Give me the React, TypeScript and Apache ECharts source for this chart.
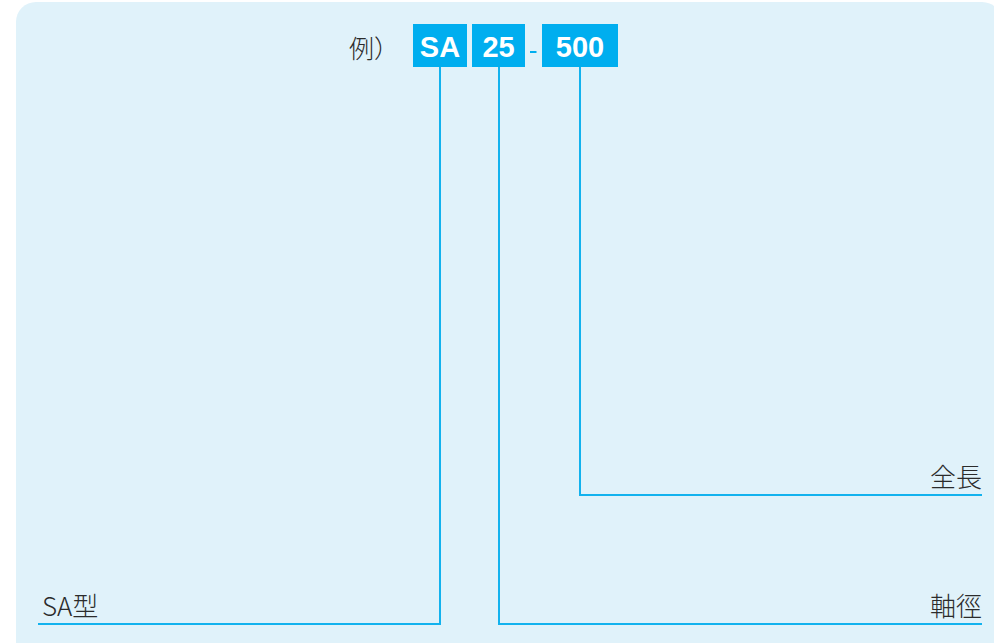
import React, { useEffect, useRef } from "react";
import * as echarts from "echarts";

const prefixLabel = "例）";
const codeParts = ["SA", "25", "500"];
const codeSeparators = ["", "", "-"];
const partLabels = ["SA型", "軸徑", "全長"];

const CYAN = "#00aeef";
const LINE = "#12b2ee";
const BG = "#e0f2fa";
const TXT = "#2b2b2b";

export default function App() {
  const ref = useRef<HTMLDivElement>(null);
  useEffect(() => {
    document.body.style.margin = "0";
    const chart = echarts.init(ref.current!, null, { renderer: "svg" });
    const boxes = [
      { x: 413, w: 54 },
      { x: 472, w: 53 },
      { x: 542, w: 76 },
    ];
    const boxTop = 24;
    const boxH = 43;
    const stemX = [440, 499, 580];
    const elbowY = [624, 624, 495];
    const endX = [38, 982, 982];
    const elements: any[] = [];
    elements.push({
      type: "rect",
      shape: { x: 16, y: 2, width: 986, height: 680, r: 20 },
      style: { fill: BG },
    });
    elements.push({
      type: "text",
      x: 349,
      y: 47,
      style: {
        text: prefixLabel,
        fill: TXT,
        font: '300 25px "Noto Sans CJK JP"',
        align: "left",
        verticalAlign: "middle",
      },
    });
    codeParts.forEach((p, i) => {
      const b = boxes[i];
      if (codeSeparators[i]) {
        elements.push({
          type: "line",
          shape: { x1: 530, y1: 52, x2: 536.5, y2: 52 },
          style: { stroke: CYAN, lineWidth: 2 },
        });
      }
      elements.push({
        type: "rect",
        shape: { x: b.x, y: boxTop, width: b.w, height: boxH },
        style: { fill: CYAN },
      });
      elements.push({
        type: "text",
        x: b.x + b.w / 2,
        y: boxTop + boxH / 2 + 1,
        style: {
          text: p,
          fill: "#ffffff",
          font: 'bold 29px "Liberation Sans", Arial, sans-serif',
          align: "center",
          verticalAlign: "middle",
        },
      });
      elements.push({
        type: "polyline",
        shape: {
          points: [
            [stemX[i], boxTop + boxH],
            [stemX[i], elbowY[i]],
            [endX[i], elbowY[i]],
          ],
        },
        style: { stroke: LINE, lineWidth: 2, fill: null },
      });
      const leftSide = endX[i] < stemX[i];
      elements.push({
        type: "text",
        x: leftSide ? endX[i] + 4 : endX[i],
        y: elbowY[i] - 20,
        style: {
          text: partLabels[i],
          fill: TXT,
          font: '300 26px "Noto Sans CJK JP", "Noto Sans", sans-serif',
          align: leftSide ? "left" : "right",
          verticalAlign: "middle",
        },
      });
    });
    chart.setOption({ animation: false, graphic: { elements } });
    return () => chart.dispose();
  }, []);
  return <div ref={ref} style={{ width: 994, height: 643 }} />;
}
